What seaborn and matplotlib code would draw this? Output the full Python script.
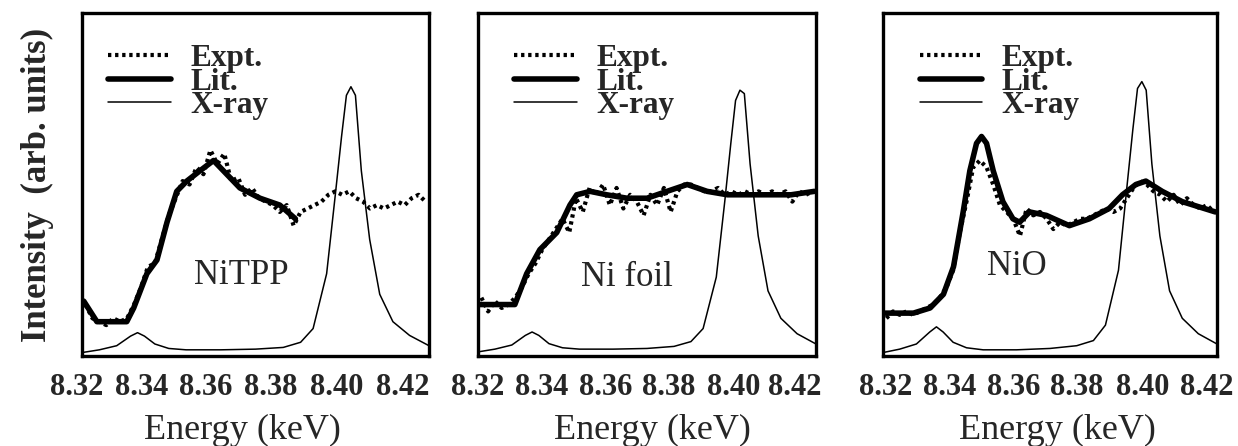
import numpy as np
import pandas as pd
import matplotlib
matplotlib.use("Agg")
import matplotlib.pyplot as plt
import matplotlib.transforms as mtransforms
import seaborn as sns
from matplotlib.lines import Line2D

sns.set_style("white")
plt.rcParams['font.family'] = ['Liberation Serif', 'DejaVu Serif']

# ---------------- data ----------------
panel_names = ["NiTPP", "Ni foil", "NiO"]
legend_labels = ["Expt.", "Lit.", "X-ray"]
xticks = [8.32, 8.34, 8.36, 8.38, 8.40, 8.42]
xtick_labels = ["8.32", "8.34", "8.36", "8.38", "8.40", "8.42"]

expt_energy = [8.321, 8.323, 8.325, 8.327, 8.329, 8.331, 8.333, 8.335, 8.337, 8.339,
               8.341, 8.343, 8.345, 8.347, 8.349, 8.351, 8.353, 8.355, 8.357, 8.359,
               8.361, 8.363, 8.365, 8.367, 8.369, 8.371, 8.373, 8.375, 8.377, 8.379,
               8.381, 8.383, 8.385, 8.387, 8.389, 8.391, 8.393, 8.395, 8.397, 8.399,
               8.401, 8.403, 8.405, 8.407, 8.409, 8.411, 8.413, 8.415, 8.417, 8.419]

expt_nitpp = [0.15, 0.11, 0.10, 0.09, 0.11, 0.10, 0.11, 0.15, 0.20, 0.26,
              0.27, 0.34, 0.41, 0.46, 0.51, 0.50, 0.55, 0.53, 0.60, 0.56,
              0.59, 0.51, 0.52, 0.47, 0.49, 0.46, 0.45, 0.44, 0.42, 0.44,
              0.38, 0.42, 0.43, 0.44, 0.45, 0.47, 0.48, 0.47, 0.48, 0.46,
              0.45, 0.43, 0.44, 0.43, 0.44, 0.45, 0.44, 0.46, 0.47, 0.45]

expt_nifoil = [0.17, 0.13, 0.16, 0.14, 0.15, 0.17, 0.20, 0.24, 0.27, 0.31,
               0.34, 0.37, 0.40, 0.36, 0.46, 0.42, 0.49, 0.47, 0.50, 0.44,
               0.49, 0.43, 0.47, 0.45, 0.41, 0.47, 0.44, 0.49, 0.42, 0.48,
               0.50, 0.50, 0.49, 0.48, 0.48, 0.49, 0.47, 0.48, 0.47, 0.48,
               0.47, 0.48, 0.47, 0.48, 0.47, 0.48, 0.45, 0.48, 0.47, 0.48]

expt_nio = [0.11, 0.13, 0.12, 0.13, 0.12, 0.13, 0.14, 0.15, 0.17, 0.20,
            0.25, 0.36, 0.45, 0.55, 0.57, 0.55, 0.50, 0.44, 0.42, 0.40,
            0.35, 0.43, 0.41, 0.42, 0.40, 0.37, 0.39, 0.38, 0.39, 0.40,
            0.40, 0.41, 0.42, 0.43, 0.42, 0.43, 0.46, 0.49, 0.51, 0.50,
            0.48, 0.47, 0.45, 0.47, 0.44, 0.46, 0.44, 0.43, 0.44, 0.42]

lit_nitpp_energy = [8.3205, 8.3243, 8.3329, 8.3349, 8.3387, 8.3416, 8.3445, 8.3473,
                    8.3502, 8.3540, 8.3579, 8.3617, 8.3655, 8.3713, 8.3770, 8.3815]
lit_nitpp = [0.16, 0.10, 0.10, 0.14, 0.24, 0.28, 0.39, 0.48,
             0.51, 0.54, 0.57, 0.53, 0.49, 0.46, 0.44, 0.40]

lit_nifoil_energy = [8.3205, 8.3309, 8.3344, 8.3383, 8.3433, 8.3472, 8.3492, 8.3532,
                     8.3581, 8.3641, 8.3700, 8.3759, 8.3819, 8.3878, 8.3938, 8.4027,
                     8.4126, 8.4195]
lit_nifoil = [0.15, 0.15, 0.24, 0.31, 0.36, 0.44, 0.47, 0.48,
              0.47, 0.46, 0.46, 0.48, 0.50, 0.48, 0.47, 0.47,
              0.47, 0.48]

lit_nio_energy = [8.3207, 8.3291, 8.3341, 8.3381, 8.3411, 8.3440, 8.3460, 8.3480,
                  8.3495, 8.3510, 8.3530, 8.3559, 8.3589, 8.3609, 8.3639, 8.3689,
                  8.3758, 8.3818, 8.3877, 8.3917, 8.3957, 8.3987, 8.4036, 8.4096,
                  8.4195]
lit_nio = [0.125, 0.125, 0.14, 0.18, 0.26, 0.42, 0.54, 0.62,
           0.64, 0.62, 0.54, 0.45, 0.40, 0.39, 0.42, 0.41,
           0.38, 0.40, 0.43, 0.47, 0.50, 0.51, 0.48, 0.45,
           0.42]

xray_energy = [8.3200, 8.3250, 8.3300, 8.3340, 8.3360, 8.3380, 8.3410, 8.3450,
               8.3500, 8.3600, 8.3700, 8.3780, 8.3830, 8.3866, 8.3905, 8.3930,
               8.3948, 8.3962, 8.3975, 8.3988, 8.4005, 8.4029, 8.4058, 8.4096,
               8.4144, 8.4200]
xray_nitpp = [0.010, 0.018, 0.030, 0.058, 0.068, 0.058, 0.035, 0.022,
              0.018, 0.018, 0.020, 0.025, 0.040, 0.080, 0.240, 0.470,
              0.640, 0.760, 0.785, 0.760, 0.540, 0.340, 0.180, 0.100,
              0.060, 0.030]
xray_nifoil = [0.012, 0.020, 0.032, 0.060, 0.070, 0.060, 0.036, 0.024,
               0.020, 0.020, 0.022, 0.028, 0.042, 0.080, 0.230, 0.450,
               0.620, 0.745, 0.775, 0.765, 0.560, 0.350, 0.190, 0.110,
               0.065, 0.035]
xray_nio = [0.010, 0.020, 0.035, 0.070, 0.085, 0.070, 0.040, 0.024,
            0.018, 0.018, 0.022, 0.030, 0.045, 0.090, 0.250, 0.490,
            0.660, 0.780, 0.800, 0.775, 0.560, 0.350, 0.190, 0.110,
            0.065, 0.035]

panels = [
    (expt_nitpp, lit_nitpp_energy, lit_nitpp, xray_nitpp),
    (expt_nifoil, lit_nifoil_energy, lit_nifoil, xray_nifoil),
    (expt_nio, lit_nio_energy, lit_nio, xray_nio),
]

# ---------------- layout ----------------
W, H = 1238, 446
fig = plt.figure(figsize=(W / 100, H / 100), dpi=100)
ax_px = [(82, 347), (478, 338), (883, 334)]
top_px, bot_px = 13, 356
label_pos = [(0.46, 0.236), (0.44, 0.23), (0.40, 0.26)]
legend_x = [0.013, 0.043, 0.045]
xlabel_x = [0.461, 0.515, 0.521]
# horizontal pixel shifts of the tick labels (the printed labels sit slightly
# compressed relative to the tick marks)
tick_shift = [[-5, -10, -15, -20, -23, -26],
              [0, -4, -8, -12, -15, -21],
              [3, 0, -3, -7, -8, -10]]

dotted = (0, (0.8, 0.9))
for i, ((expt, le, lv, xr), (lx, lw)) in enumerate(zip(panels, ax_px)):
    ax = fig.add_axes([lx / W, 1 - bot_px / H, lw / W, (bot_px - top_px) / H])
    sns.lineplot(x=xray_energy, y=xr, ax=ax, color="black", linewidth=1.1)
    sns.lineplot(x=le, y=lv, ax=ax, color="black", linewidth=4.0)
    sns.lineplot(x=expt_energy, y=expt, ax=ax, color="black", linewidth=3.0,
                 linestyle=dotted)
    ax.set_xlim(8.32, 8.42)
    ax.set_ylim(0, 1)
    ax.set_yticks([])
    ax.set_xticks(xticks)
    ax.set_xticklabels(xtick_labels, fontsize=22, fontweight="bold")
    ax.tick_params(axis="x", direction="in", length=5, width=2.5, pad=12)
    for lab, dx in zip(ax.get_xticklabels(), tick_shift[i]):
        lab.set_transform(lab.get_transform() +
                          mtransforms.ScaledTranslation(dx / 100, 0, fig.dpi_scale_trans))
    for s in ax.spines.values():
        s.set_linewidth(2.4)
        s.set_color("black")
    ax.set_xlabel("Energy (keV)", fontsize=26)
    ax.xaxis.set_label_coords(xlabel_x[i], -0.168)
    ax.set_ylabel("")
    ax.text(label_pos[i][0], label_pos[i][1], panel_names[i], transform=ax.transAxes,
            fontsize=25, ha="center", va="center")
    handles = [
        Line2D([], [], color="black", linewidth=3.0, linestyle=dotted),
        Line2D([], [], color="black", linewidth=4.0),
        Line2D([], [], color="black", linewidth=1.1),
    ]
    ax.legend(handles, legend_labels, loc="upper left",
              bbox_to_anchor=(legend_x[i], 0.974), frameon=False,
              prop={"weight": "bold", "size": 22.5, "family": "Liberation Serif"},
              handlelength=2.0, labelspacing=-0.167, handletextpad=0.62,
              borderaxespad=0.3)
    if i == 0:
        ax.set_ylabel("Intensity  (arb. units)", fontsize=25, fontweight="bold",
                      labelpad=20)

fig.savefig("out.png", dpi=100)
